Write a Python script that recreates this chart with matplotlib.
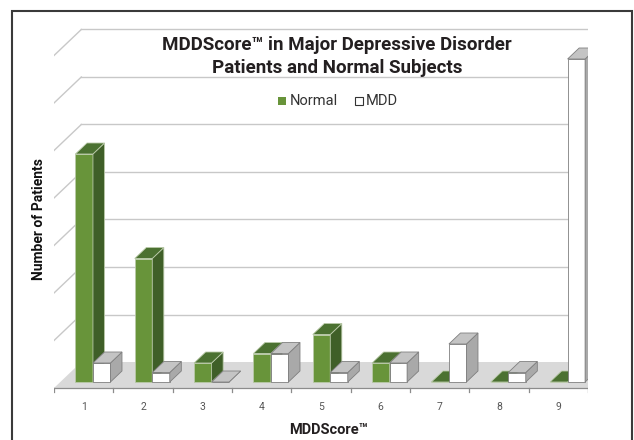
import matplotlib
matplotlib.use("Agg")
import matplotlib.pyplot as plt
from matplotlib.patches import Polygon, Rectangle

scores = [1, 2, 3, 4, 5, 6, 7, 8, 9]
normal = [24, 13, 2, 3, 5, 2, 0, 0, 0]
mdd = [2, 1, 0, 3, 1, 2, 4, 1, 34]
tick_labels = [str(s) for s in scores]
grid_levels = [5, 10, 15, 20, 25, 30, 35]

W, H = 634, 440
fig = plt.figure(figsize=(W / 100, H / 100), dpi=100)

# axes: front floor edge runs from x=0.5 to 9.5, y=0 on the front edge
px_x = 534 / 9.0   # pixels per category
px_y = 9.5         # pixels per patient
ax = fig.add_axes([54 / W, 4.5 / H, 534 / W, 45 * px_y / H])
ax.set_xlim(0.5, 9.5)
ax.set_ylim(-5, 40)
ax.axis("off")


def dep(d):
    """pixel depth -> (dx, dy) in data units"""
    return d * 1.05 / px_x, d * 1.0 / px_y


floor_d = 26
bar_d0, bar_d1 = 6, 17
fx, fy = dep(floor_d)

# floor
ax.add_patch(Polygon([(0.5, 0), (9.5, 0), (9.5 + fx, fy), (0.5 + fx, fy)],
                     closed=True, facecolor="#d9d9d9", edgecolor="none", zorder=1))

# back wall / left wall grid
for g in grid_levels:
    ax.plot([0.5 + fx, 9.5 + fx], [g + fy, g + fy], color="#c8c8c8", lw=1.0, zorder=0)
    ax.plot([0.5, 0.5 + fx], [g, g + fy], color="#c8c8c8", lw=1.0, zorder=0)

# front axis line + ticks
ax.plot([0.5, 9.5], [0, 0], color="#8c8c8c", lw=0.9, zorder=2)
for b in range(10):
    ax.plot([0.5 + b, 0.5 + b], [0, -0.45], color="#8c8c8c", lw=0.9, zorder=2)
for s, lab in zip(scores, tick_labels):
    ax.text(s, -2.0, lab, ha="center", va="center", fontsize=7.5, color="#555555",
            family="Roboto")

w = 0.295
x0x, x0y = dep(bar_d0)
x1x, x1y = dep(bar_d1)


def bar3d(left, h, front, side, top, edge):
    ax.bar(left + x0x, h, width=w, bottom=x0y, align="edge", color=front,
           edgecolor=edge, linewidth=0.6, zorder=3)
    r = left + w
    ax.add_patch(Polygon([(r + x0x, x0y), (r + x1x, x1y), (r + x1x, h + x1y), (r + x0x, h + x0y)],
                         closed=True, facecolor=side, edgecolor=edge, lw=0.6, zorder=3))
    ax.add_patch(Polygon([(left + x0x, h + x0y), (r + x0x, h + x0y), (r + x1x, h + x1y),
                          (left + x1x, h + x1y)],
                         closed=True, facecolor=top, edgecolor=edge, lw=0.6, zorder=3))


for s, n, m in zip(scores, normal, mdd):
    left = s - 0.245
    bar3d(left, n, "#68943a", "#3f5f28", "#4b7131", "#b9c9a8")
    bar3d(left + w, m, "#ffffff", "#a9a9a9", "#c4c4c4", "#7f7f7f")

# frame
fig.patches.append(Rectangle((12 / W, -0.1), 620 / W, (H - 11) / H + 0.1,
                             transform=fig.transFigure, fill=False,
                             edgecolor="#3a3a3a", lw=1.5))

# title
fig.text(337 / W, 1 - 45 / H, "MDDScore\u2122 in Major Depressive Disorder",
         ha="center", va="center", fontsize=13.5, fontweight="bold", color="#231f20",
         family="Roboto")
fig.text(337 / W, 1 - 68 / H, "Patients and Normal Subjects",
         ha="center", va="center", fontsize=13.5, fontweight="bold", color="#231f20",
         family="Roboto")

# legend
fig.patches.append(Rectangle((278 / W, 1 - 105 / H), 8 / W, 8 / H, transform=fig.transFigure,
                             facecolor="#68943a", edgecolor="none"))
fig.text(290 / W, 1 - 101 / H, "Normal", ha="left", va="center", fontsize=10.5,
         color="#333333", family="Roboto")
fig.patches.append(Rectangle((355 / W, 1 - 105 / H), 8 / W, 8 / H, transform=fig.transFigure,
                             facecolor="white", edgecolor="#333333", lw=0.8))
fig.text(366 / W, 1 - 101 / H, "MDD", ha="left", va="center", fontsize=10.5,
         color="#333333", family="Roboto")

# axis titles
fig.text(39 / W, 1 - 219 / H, "Number of Patients", rotation=90, ha="center", va="center",
         fontsize=10, fontweight="bold", color="#111111", family="Roboto")
fig.text(329 / W, 1 - 430 / H, "MDDScore\u2122", ha="center", va="center",
         fontsize=10.5, fontweight="bold", color="#231f20", family="Roboto")

fig.savefig("out.png", dpi=100)
